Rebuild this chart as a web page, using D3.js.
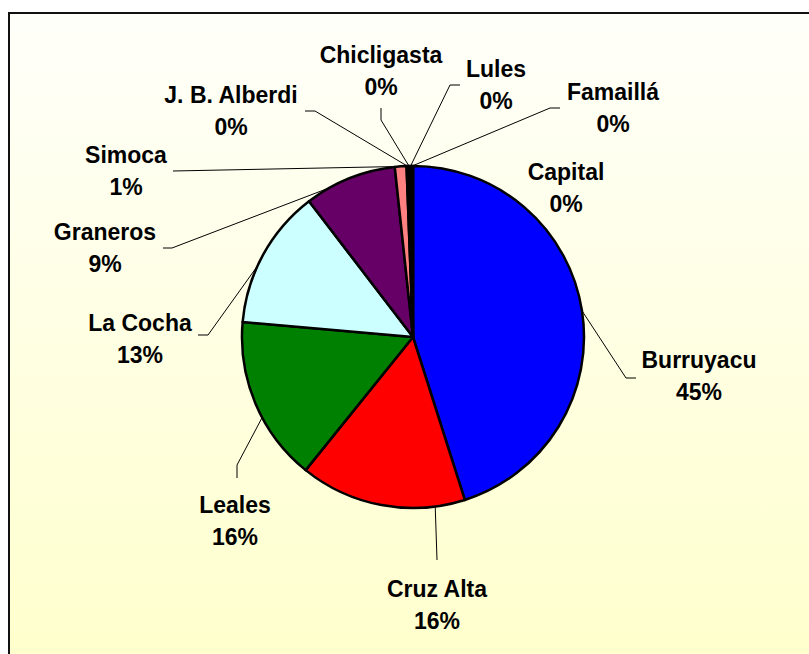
<!DOCTYPE html>
<html>
<head>
<meta charset="utf-8">
<script src="https://cdn.jsdelivr.net/npm/d3@7"></script>
<style>
  html, body { margin: 0; padding: 0; background: #ffffff; }
  svg { display: block; }
  text { font-family: "Liberation Sans", Arial, sans-serif; font-weight: bold; fill: #000; }
</style>
</head>
<body>
<svg id="chart" width="809" height="654"></svg>
<script>
// ---- data ----
const categories = ["Burruyacu", "Cruz Alta", "Leales", "La Cocha", "Graneros", "Simoca",
                    "J. B. Alberdi", "Chicligasta", "Lules", "Famaillá", "Capital"];
const values = [45.1, 15.7, 15.6, 13.2, 8.7, 1.1, 0.15, 0.15, 0.15, 0.15, 0.0];
const colors = ["#0000FF", "#FF0000", "#008000", "#CCFFFF", "#660066", "#FF8080",
                "#0066CC", "#CCCCFF", "#000080", "#FF00FF", "#FFFF00"];

// ---- layout (label placement) ----
const labelX = [699, 437, 235, 140, 105, 126, 231, 381, 496, 613, 566];
const labelY = [368, 597, 513, 331, 240, 163, 103, 63, 77, 100, 180];
const leaderT = [0.5, 0.18, 0.41, 0.41, 0.26, 0.5, 0.5, 0.5, 0.5, 0.5, null];
const leaderPts = [
  [[626, 378], [636, 378]],
  [[437, 560]],
  [[237, 465], [237, 478]],
  [[208, 335], [198, 335]],
  [[172, 248], [163, 248]],
  [[173, 171]],
  [[315, 111], [305, 111]],
  [[381, 120], [381, 108]],
  [[450, 85], [460, 85]],
  [[550, 108], [560, 108]],
  null
];

const W = 809, H = 654;
const cx = 413, cy = 337, R = 171;

const svg = d3.select("#chart");
const defs = svg.append("defs");
const grad = defs.append("linearGradient").attr("id", "bg")
  .attr("x1", 0).attr("y1", 0).attr("x2", 0).attr("y2", 1);
grad.append("stop").attr("offset", "0%").attr("stop-color", "#FFFFFA");
grad.append("stop").attr("offset", "100%").attr("stop-color", "#FFFFCC");

// frame
svg.append("rect")
  .attr("x", 9).attr("y", 13).attr("width", W).attr("height", H)
  .attr("fill", "url(#bg)")
  .attr("stroke", "#111").attr("stroke-width", 2);

const data = categories.map((c, i) => ({ name: c, value: values[i], color: colors[i], i }));
const total = d3.sum(values);

const pie = d3.pie().sort(null).value(d => d.value).startAngle(0).endAngle(2 * Math.PI);
const arcs = pie(data);
const arc = d3.arc().innerRadius(0).outerRadius(R);

const g = svg.append("g").attr("transform", `translate(${cx},${cy})`);
g.selectAll("path.slice")
  .data(arcs)
  .join("path")
  .attr("class", "slice")
  .attr("d", arc)
  .attr("fill", d => d.data.color)
  .attr("stroke", "#000")
  .attr("stroke-width", 2.5)
  .attr("stroke-linejoin", "round");

// leader lines
const line = d3.line();
arcs.forEach((a, i) => {
  if (leaderT[i] === null || !leaderPts[i]) return;
  const ang = a.startAngle + leaderT[i] * (a.endAngle - a.startAngle);
  const p0 = [cx + R * Math.sin(ang), cy - R * Math.cos(ang)];
  svg.append("path")
    .attr("d", line([p0, ...leaderPts[i]]))
    .attr("fill", "none")
    .attr("stroke", "#000")
    .attr("stroke-width", 1);
});

// labels
const pct = v => Math.round(v / total * 100) + "%";
const labels = svg.append("g");
arcs.forEach((a, i) => {
  const t = labels.append("text")
    .attr("text-anchor", "middle")
    .attr("font-size", 23);
  t.append("tspan").attr("x", labelX[i]).attr("y", labelY[i]).text(a.data.name);
  t.append("tspan").attr("x", labelX[i]).attr("y", labelY[i] + 32).text(pct(a.data.value));
});
</script>
</body>
</html>
